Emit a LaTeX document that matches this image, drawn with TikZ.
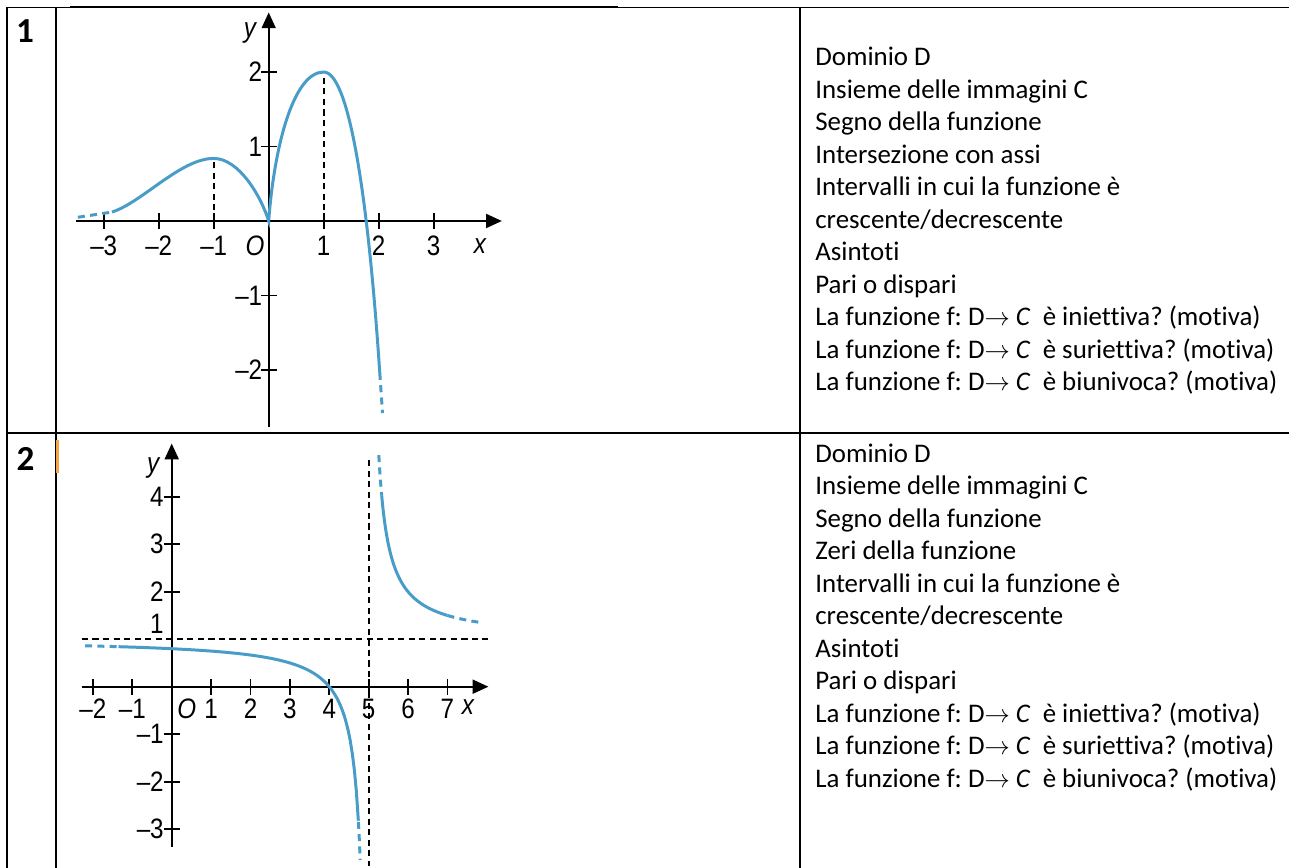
\documentclass[tikz,border=0pt]{standalone}
\usepackage{fontspec}
\setmainfont[Ligatures=NoCommon]{Carlito}
\newfontfamily\graphfont[FakeStretch=0.86]{Liberation Sans}
\usetikzlibrary{arrows.meta}
\frenchspacing

\definecolor{curveblue}{RGB}{72,156,200}
\definecolor{cursororange}{RGB}{245,165,70}

\newcommand{\mapDC}{D$\rightarrow$\ \textit{C}\ \ è}

\tikzset{
  grid line/.style={line width=1.1pt},
  thin grid/.style={line width=0.6pt},
  axis/.style={line width=1pt, -{Triangle[length=9pt,width=8pt]}},
  tickmark/.style={line width=1pt},
  curve/.style={curveblue, line width=1.7pt},
  curve tail/.style={curve, dash pattern=on 4pt off 3pt},
  guide/.style={line width=1pt, dash pattern=on 3.5pt off 2.5pt},
  ticklab/.style={font=\graphfont\fontsize{16}{16}\selectfont, inner sep=1pt},
  item/.style={anchor=base west, inner sep=0pt, font=\fontsize{15.3}{18}\selectfont},
  rownum/.style={font=\bfseries\fontsize{20}{20}\selectfont, anchor=base, inner sep=0pt}
}

\begin{document}
\begin{tikzpicture}[x=0.02cm, y=-0.02cm]
  \useasboundingbox (0,0) rectangle (1289,868);

  % table rules
  \draw[grid line] (7,7.5) -- (70,7.5);
  \draw[thin grid] (70,7) -- (618,7);
  \draw[grid line] (618,7.5) -- (1289,7.5);
  \draw[grid line] (7,433) -- (70,433);
  \draw[thin grid] (70,433) -- (618,433);
  \draw[grid line] (618,433) -- (1289,433);
  \foreach \cx in {7, 55.7, 800}{
    \draw[grid line] (\cx,7) -- (\cx,868);
  }

  \node[rownum] (num1) at (25,42.7) {1};
  \node[rownum] (num2) at (25.5,470.7) {2};
  \draw[cursororange, line width=1.2pt] (57.5,440) -- (57.5,473);

  % graph 1
  \begin{scope}[shift={(268.7,221)}, x=1.1cm, y=1.49cm]
    \coordinate (a1l) at (-3.5,0);
    \coordinate (a1r) at (4.24,0);
    \coordinate (a1b) at (0,-2.76);
    \coordinate (a1t) at (0,2.8);
    \draw[axis] (a1l) -- (a1r);
    \draw[axis] (a1b) -- (a1t);
    \foreach \t/\lab in {-3/–3, -2/–2, -1/–1, 1/1, 2/2, 3/3}{
      \draw[tickmark] (\t,0) ++(0,4.5pt) -- ++(0,-9pt);
      \node[ticklab] (g1x\lab) at (\t,-0.33) {\lab};
    }
    \foreach \t/\lab in {-2/–2, -1/–1, 1/1, 2/2}{
      \draw[tickmark] (0,\t) ++(-4.5pt,0) -- ++(9pt,0);
      \node[ticklab, anchor=east] (g1y\lab) at (-0.08,\t) {\lab};
    }
    \node[ticklab] (g1o) at (-0.25,-0.33) {\itshape O};
    \node[ticklab] (g1x) at (3.84,-0.33) {\itshape x};
    \node[ticklab] (g1y) at (-0.34,2.52) {\itshape y};
    \draw[guide] (-1,0) -- (-1,0.84);
    \draw[guide] (1,0) -- (1,2);
    \draw[curve tail] (-3.47,0.05) -- (-2.85,0.12);
    \draw[curve] (-2.85,0.12) .. controls (-2.3,0.25) and (-1.6,0.84) .. (-1,0.84)
      .. controls (-0.55,0.84) and (-0.15,0.35) .. (0,0)
      .. controls (0.1,1.0) and (0.45,2) .. (1,2)
      .. controls (1.45,2) and (1.8,0.4) .. (2.02,-2.04);
    \draw[curve tail] (2.02,-2.04) -- (2.07,-2.58);
  \end{scope}

  % graph 2
  \begin{scope}[shift={(171.7,686.7)}, x=0.788cm, y=0.95cm]
    \coordinate (a2l) at (-2.28,0);
    \coordinate (a2r) at (8.04,0);
    \coordinate (a2b) at (0,-3.37);
    \coordinate (a2t) at (0,5.12);
    \draw[axis] (a2l) -- (a2r);
    \draw[axis] (a2b) -- (a2t);
    \foreach \t/\lab in {-2/–2, -1/–1, 1/1, 2/2, 3/3, 4/4, 5/5, 6/6, 7/7}{
      \draw[tickmark] (\t,0) ++(0,4.5pt) -- ++(0,-9pt);
      \node[ticklab] (g2x\lab) at (\t,-0.46) {\lab};
    }
    \foreach \t/\lab in {-3/–3, -2/–2, -1/–1, 2/2, 3/3, 4/4}{
      \draw[tickmark] (0,\t) ++(-4.5pt,0) -- ++(9pt,0);
      \node[ticklab, anchor=east] (g2y\lab) at (-0.15,\t) {\lab};
    }
    \node[ticklab, anchor=east] (g2y1) at (-0.15,1.33) {1};
    \node[ticklab] (g2o) at (0.38,-0.46) {\itshape O};
    \node[ticklab] (g2x) at (7.52,-0.43) {\itshape x};
    \node[ticklab] (g2y) at (-0.47,4.6) {\itshape y};
    \coordinate (h1) at (-2.28,1);
    \coordinate (h2) at (8.04,1);
    \coordinate (v1) at (5,4.77);
    \coordinate (v2) at (5,-3.77);
    \draw[guide] (h1) -- (h2);
    \draw[guide] (v1) -- (v2);
    \draw[curve tail, domain=-2.2:-1.35, samples=10] plot (\x, {1+1/(\x-5)});
    \draw[curve, domain=-1.35:4.74, samples=120] plot (\x, {1+1/(\x-5)});
    \draw[curve tail, domain=4.74:4.785, samples=10] plot (\x, {1+1/(\x-5)});
    \draw[curve tail, domain=5.258:5.33, samples=10] plot (\x, {1+1/(\x-5)});
    \draw[curve, domain=5.33:7, samples=80] plot (\x, {1+1/(\x-5)});
    \draw[curve tail, domain=7:7.8, samples=10] plot (\x, {1+1/(\x-5)});
  \end{scope}

  % questions
  \foreach \txt [count=\k from 0] in {Dominio D, Insieme delle immagini C,
      Segno della funzione, Intersezione con assi,
      Intervalli in cui la funzione è, crescente/decrescente, Asintoti,
      Pari o dispari, La funzione f: \mapDC{} iniettiva? (motiva),
      La funzione f: \mapDC{} suriettiva? (motiva),
      La funzione f: \mapDC{} biunivoca? (motiva)}{
    \node[item] (q1l\k) at (815,66+32.5*\k) {\txt};
  }
  \foreach \txt [count=\k from 0] in {Dominio D, Insieme delle immagini C,
      Segno della funzione, Zeri della funzione,
      Intervalli in cui la funzione è, crescente/decrescente, Asintoti,
      Pari o dispari, La funzione f: \mapDC{} iniettiva? (motiva),
      La funzione f: \mapDC{} suriettiva? (motiva),
      La funzione f: \mapDC{} biunivoca? (motiva)}{
    \node[item] (q2l\k) at (815,462.3+32.5*\k) {\txt};
  }
\end{tikzpicture}
\end{document}
